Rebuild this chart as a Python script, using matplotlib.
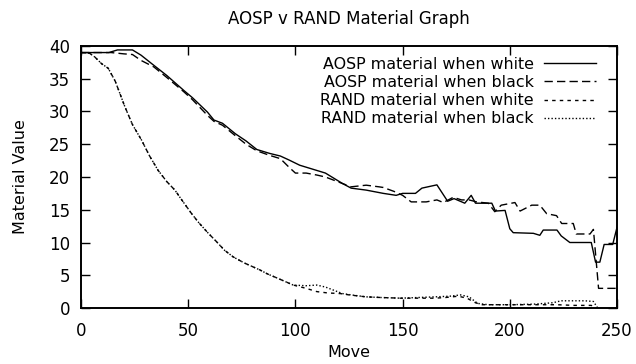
import matplotlib
matplotlib.use("Agg")
import matplotlib.pyplot as plt

plt.rcParams['font.family'] = ['DejaVu Sans']

title = "AOSP v RAND Material Graph"
xlabel = "Move"
ylabel = "Material Value"
labels = ["AOSP material when white", "AOSP material when black",
          "RAND material when white", "RAND material when black"]
xticks = [0, 50, 100, 150, 200, 250]
yticks = [0, 5, 10, 15, 20, 25, 30, 35, 40]

aosp_white_x = [0, 5, 13, 17, 24, 28, 33, 40, 48, 52, 59, 62, 66, 72, 77, 82, 88, 93, 97,
                102, 106, 110, 114, 118, 122, 126, 133, 141, 147, 150, 156, 159, 166, 171,
                174, 179, 182, 184, 189, 191.6, 193.3, 197.8, 200, 201.6, 211, 214, 215.6,
                222, 224, 228, 238, 240, 242, 244, 248, 250]
aosp_white_y = [39, 39, 39, 39.4, 39.4, 38.6, 37.3, 35.5, 33.2, 32.1, 29.9, 28.7, 28.2, 26.6,
                25.5, 24.2, 23.6, 23.2, 22.6, 21.8, 21.4, 21.0, 20.6, 19.8, 19.0, 18.3, 18.0,
                17.5, 17.2, 17.5, 17.5, 18.3, 18.8, 16.3, 16.7, 16.0, 17.2, 16.0, 16.0, 16.0,
                14.8, 14.9, 12.1, 11.5, 11.4, 11.1, 11.9, 11.9, 11.0, 10.0, 10.0, 7.0, 7.0,
                9.7, 9.7, 12.3]

aosp_black_x = [0, 14, 20, 24, 28, 34, 40, 48, 52, 59, 62, 66, 72, 77, 82, 88, 93, 97, 100,
                105, 110, 114, 118, 122, 126, 133, 139, 141, 146, 150, 154, 161, 166, 169,
                173.6, 177.5, 181, 184.5, 190, 193, 196, 202.4, 204.8, 210.2, 214, 217.2,
                221.8, 224.2, 229.6, 231, 237.4, 239, 241.4, 250]
aosp_black_y = [39, 39, 38.8, 38.7, 37.8, 36.8, 35.2, 33.0, 31.8, 29.4, 28.5, 27.9, 26.3, 25.0,
                24.0, 23.3, 22.8, 21.5, 20.6, 20.6, 20.3, 20.0, 19.5, 19.0, 18.5, 18.75, 18.5,
                18.4, 17.8, 17.2, 16.2, 16.2, 16.5, 16.1, 16.9, 16.5, 16.5, 16.2, 16.0, 14.7,
                15.7, 16.1, 14.8, 15.7, 15.7, 14.4, 14.1, 12.9, 12.9, 11.3, 11.3, 12.0, 3.0, 3.0]

rand_white_x = [0, 4, 6.5, 9.6, 12.7, 16, 20.5, 24, 28.3, 32, 36, 40, 43.8, 47, 51.6, 55,
                59.4, 63, 67, 71, 76, 83.5, 87, 92, 99, 105, 110, 115, 121, 125, 133, 140,
                149, 157, 165, 170, 176, 180, 184, 187, 200, 210, 222, 230, 238, 240]
rand_white_y = [39, 38.9, 38.3, 37.3, 36.6, 34.6, 30.7, 28.0, 25.6, 23.2, 21.0, 19.3, 18.0,
                16.5, 14.4, 13.0, 11.4, 10.2, 8.8, 7.8, 6.9, 5.8, 5.2, 4.5, 3.5, 3.0, 2.5, 2.3,
                2.2, 2.0, 1.7, 1.6, 1.5, 1.5, 1.5, 1.6, 1.8, 1.5, 0.8, 0.5, 0.5, 0.5, 0.5,
                0.4, 0.4, 0.0]

rand_black_x = [0, 4, 6.5, 9.6, 12.7, 16, 20.5, 24, 28.3, 32, 36, 40, 43.8, 47, 51.6, 55,
                59.4, 63, 67, 71, 76, 83.5, 87, 92, 99, 105, 110, 114, 118, 122, 126, 133,
                140, 149, 157, 165, 172, 177, 181, 185, 190, 200, 212, 220, 224, 235, 239, 241]
rand_black_y = [39, 38.9, 38.3, 37.3, 36.6, 34.6, 30.7, 28.0, 25.6, 23.2, 21.0, 19.3, 18.0,
                16.5, 14.4, 13.0, 11.4, 10.2, 8.8, 7.8, 6.9, 5.8, 5.2, 4.5, 3.5, 3.4, 3.5, 3.2,
                2.7, 2.2, 2.0, 1.7, 1.6, 1.5, 1.6, 1.7, 1.8, 2.0, 1.7, 0.7, 0.5, 0.5, 0.6, 0.8,
                1.1, 1.1, 1.0, 0.0]

fig = plt.figure(figsize=(6.36, 3.64), dpi=100)
ax = fig.add_axes([81/636, 1 - 308/364, (617-81)/636, (308-46)/364])

lw = 1.0
ax.plot(aosp_white_x, aosp_white_y, color='black', lw=lw, ls='-', label=labels[0])
ax.plot(aosp_black_x, aosp_black_y, color='black', lw=lw, ls=(0, (6, 3)), label=labels[1])
ax.plot(rand_white_x, rand_white_y, color='black', lw=lw, ls=(0, (2.5, 3)), label=labels[2])
ax.plot(rand_black_x, rand_black_y, color='black', lw=lw, ls=(0, (1, 1.5)), label=labels[3])

ax.set_xlim(0, 250)
ax.set_ylim(0, 40)
ax.set_xticks(xticks)
ax.set_yticks(yticks)
ax.tick_params(direction='in', length=6.5, width=1, top=True, right=True, labelsize=12)
ax.tick_params(axis='x', pad=10)
ax.tick_params(axis='y', pad=8)
for s in ax.spines.values():
    s.set_linewidth(1.4)

ax.set_title(title, fontsize=12, pad=16)
ax.set_xlabel(xlabel, fontsize=11.5, labelpad=4)
ax.set_ylabel(ylabel, fontsize=11.5, labelpad=15)

leg = ax.legend(loc='upper right', bbox_to_anchor=(0.967, 0.97), frameon=False,
                markerfirst=False, fontsize=11.4, handlelength=3.3, handletextpad=0.65,
                labelspacing=0.19, borderpad=0.2, borderaxespad=0)

fig.savefig('out.png', dpi=100)
